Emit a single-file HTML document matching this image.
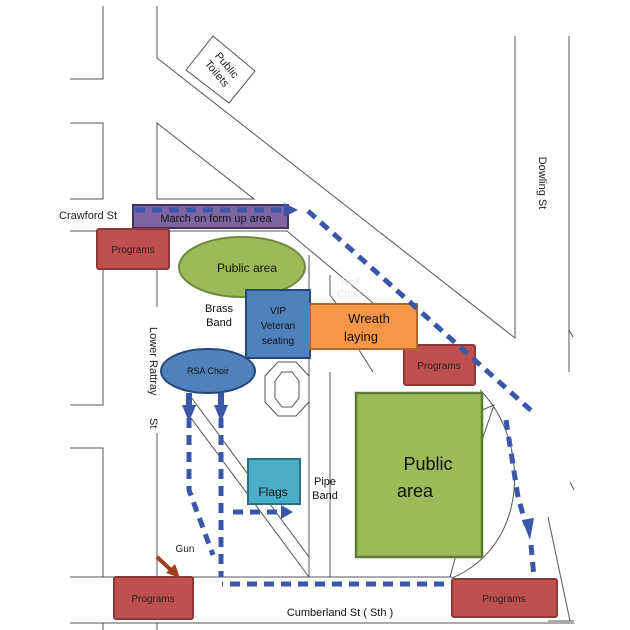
<!DOCTYPE html>
<html><head><meta charset="utf-8"><style>
html,body{margin:0;padding:0;background:#fff;}
svg{display:block;}
text{font-family:"Liberation Sans",sans-serif;}
</style></head><body>
<svg width="630" height="630" viewBox="0 0 630 630" xmlns="http://www.w3.org/2000/svg">
<g fill="none" stroke="#555" stroke-width="1">
<polyline points="103,6 103,79 70,79"/>
<polyline points="70,123 103,123 103,199 70,199"/>
<polyline points="157,6 157,58 515,338 515,36"/>
<line x1="569" y1="36" x2="569" y2="372"/>
<line x1="569" y1="330" x2="573" y2="337"/>
<polygon points="157,123 157,199 254,199"/>
<polyline points="70,231 287,231 373,303"/>
<line x1="359" y1="350" x2="373" y2="372"/>
<line x1="103" y1="269" x2="103" y2="405"/>
<line x1="70" y1="405" x2="103" y2="405"/>
<polyline points="70,448 103,448 103,577"/>
<line x1="70" y1="577" x2="452" y2="577"/>
<line x1="70" y1="623" x2="574" y2="623"/>
<line x1="103" y1="623" x2="103" y2="630"/>
<line x1="157" y1="623" x2="157" y2="630"/>
<line x1="157" y1="269" x2="157" y2="307"/>
<line x1="157" y1="433" x2="157" y2="577"/>
<line x1="309" y1="255" x2="309" y2="577"/>
<line x1="330" y1="372" x2="330" y2="577"/>
<polyline points="330,275 330,295 336,303"/>
<line x1="191" y1="397" x2="309" y2="557"/>
<line x1="191" y1="418" x2="309" y2="577"/>
<path d="M480,390 C530,440 530,545 452,578"/>
<polyline points="482,440 494,405 482,410"/>
<line x1="450" y1="577" x2="456" y2="555"/>
<polyline points="548,517 570,621 548,621"/>
<line x1="548" y1="621" x2="574" y2="621"/>
<line x1="570" y1="482" x2="574" y2="490"/>
<polygon points="213,36 255,71 229,103 186,70" fill="#fff"/>
</g>
<text transform="translate(221,70) rotate(50)" font-size="11" text-anchor="middle" fill="#222"><tspan x="0" y="-4">Public</tspan><tspan x="0" y="9">Toilets</tspan></text>
<text x="59" y="219" font-size="11" fill="#222">Crawford St</text>
<text transform="translate(539,183) rotate(90)" font-size="11" text-anchor="middle" fill="#222">Dowling St</text>
<text transform="translate(150,327) rotate(90)" font-size="11" fill="#222">Lower Rattray</text>
<text transform="translate(150,418) rotate(90)" font-size="11" fill="#222">St</text>
<text x="350" y="285" font-size="10" fill="#e8e8e0" text-anchor="middle">Red</text>
<text x="350" y="297" font-size="10" fill="#e8e8e0" text-anchor="middle">Cross</text>
<!-- purple -->
<rect x="133" y="205" width="155" height="23" fill="#8064a2" stroke="#3f3160" stroke-width="2"/>
<text x="216" y="222" font-size="11" fill="#111" text-anchor="middle">March on form up area</text>
<line x1="135" y1="210" x2="286" y2="210" stroke="#3a56a8" stroke-width="5" stroke-dasharray="10,7"/>
<polygon points="284,203 298,210 284,217" fill="#3a56a8"/>
<!-- programs -->
<g fill="#c0504d" stroke="#8c3836" stroke-width="2">
<rect x="97" y="229" width="72" height="40" rx="2"/>
<rect x="404" y="345" width="71" height="40" rx="2"/>
<rect x="114" y="577" width="79" height="42" rx="2"/>
<rect x="452" y="579" width="105" height="38" rx="2"/>
</g>
<g font-size="10" fill="#222" text-anchor="middle">
<text x="133" y="253">Programs</text>
<text x="439" y="369">Programs</text>
<text x="153" y="602">Programs</text>
<text x="504" y="602">Programs</text>
</g>
<ellipse cx="242" cy="267" rx="63" ry="30" fill="#9bbb59" stroke="#71893f" stroke-width="2"/>
<text x="247" y="272" font-size="12" fill="#111" text-anchor="middle">Public area</text>
<text x="219" y="312" font-size="11" fill="#111" text-anchor="middle">Brass</text>
<text x="219" y="326" font-size="11" fill="#111" text-anchor="middle">Band</text>
<rect x="246" y="290" width="64" height="68" fill="#4f81bd" stroke="#254a7a" stroke-width="2"/>
<g font-size="10" fill="#111" text-anchor="middle"><text x="278" y="314">VIP</text><text x="278" y="329">Veteran</text><text x="278" y="344">seating</text></g>
<rect x="310" y="304" width="107" height="45" fill="#f79646" stroke="#b5652a" stroke-width="2"/>
<text x="369" y="323" font-size="13" fill="#111" text-anchor="middle">Wreath</text>
<text x="361" y="341" font-size="13" fill="#111" text-anchor="middle">laying</text>
<ellipse cx="208" cy="371" rx="47" ry="22" fill="#4f81bd" stroke="#254a7a" stroke-width="2"/>
<text x="208" y="374" font-size="9" fill="#111" text-anchor="middle">RSA Choir</text>
<polygon points="278,362 296,362 309,376 309,402 296,416 278,416 265,402 265,376" fill="#fff" stroke="#555"/>
<polygon points="282,372 292,372 299,381 299,398 292,407 282,407 275,398 275,381" fill="#fff" stroke="#555"/>
<rect x="356" y="393" width="126" height="164" fill="#9bbb59" stroke="#5f7a32" stroke-width="2.5"/>
<text x="428" y="470" font-size="18" fill="#111" text-anchor="middle">Public</text>
<text x="415" y="497" font-size="18" fill="#111" text-anchor="middle">area</text>
<rect x="248" y="459" width="52" height="45" fill="#4bacc6" stroke="#2b7186" stroke-width="2"/>
<text x="273" y="496" font-size="12" fill="#111" text-anchor="middle">Flags</text>
<text x="325" y="485" font-size="11" fill="#111" text-anchor="middle">Pipe</text>
<text x="325" y="499" font-size="11" fill="#111" text-anchor="middle">Band</text>
<text x="185" y="552" font-size="10" fill="#222" text-anchor="middle">Gun</text>
<text x="340" y="616" font-size="11" fill="#111" text-anchor="middle">Cumberland St (    Sth    )</text>
<!-- dashed routes -->
<g fill="none" stroke="#3a56a8" stroke-width="5" stroke-dasharray="10,7">
<line x1="308" y1="211" x2="535" y2="414"/>
<polyline points="506,420 518,497 526,525"/>
<line x1="531" y1="545" x2="534" y2="577"/>
<line x1="444" y1="584" x2="222" y2="584"/>
<polyline points="189,418 189,490 213,555"/>
<line x1="221" y1="418" x2="221" y2="577"/>
<line x1="233" y1="512" x2="282" y2="512"/>
</g>
<g fill="#3a56a8">
<polygon points="522,520 534,518 530,540"/>
<polygon points="281,505 293,512 281,519"/>
<rect x="186" y="393" width="6" height="14"/><polygon points="182,405 196,405 189,422"/>
<rect x="218" y="393" width="6" height="14"/><polygon points="214,405 228,405 221,422"/>
</g>
<line x1="157" y1="557" x2="172" y2="571" stroke="#a0401c" stroke-width="4"/>
<polygon points="166,573 180,578 175,564" fill="#a0401c"/>
</svg>
</body></html>
